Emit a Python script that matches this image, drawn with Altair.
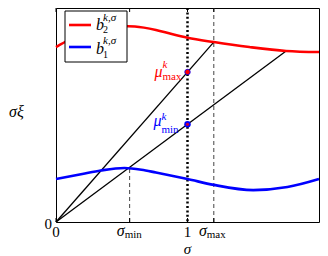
import altair as alt
import pandas as pd

# ---- data ----
sigma_b2 = [0.0, 0.1, 0.2, 0.3, 0.4, 0.5, 0.6, 0.76, 0.88, 1.0, 1.2, 1.47, 1.75, 2.0]
b2 = [0.806, 0.839, 0.866, 0.885, 0.899, 0.903, 0.901, 0.885, 0.866, 0.849, 0.829, 0.806, 0.788, 0.783]
sigma_b1 = [0.0, 0.2, 0.34, 0.52, 0.65, 0.76, 1.0, 1.2, 1.5, 1.76, 2.0]
b1 = [0.198, 0.221, 0.237, 0.249, 0.241, 0.228, 0.198, 0.171, 0.147, 0.161, 0.198]
sigma_min = 0.56
sigma_max = 1.2
sigma_one = 1.0
ray_end_sigma = [1.2, 1.75]
ray_end_value = [0.829, 0.788]
mu_max = 0.691
mu_min = 0.45
b1_at_sigma_min = 0.25
tick_sigma = [0.0, 0.56, 1.0, 1.2]

W, H = 263, 214
FONT = "Liberation Serif"
xs = alt.Scale(domain=[0, 2], nice=False, zero=False)
ys = alt.Scale(domain=[0, 0.986], nice=False, zero=False)


def X(f, **kw):
    return alt.X(f, type="quantitative", scale=xs, axis=None, **kw)


def Y(f, **kw):
    return alt.Y(f, type="quantitative", scale=ys, axis=None, **kw)


red_df = pd.DataFrame({"s": sigma_b2, "v": b2})
blue_df = pd.DataFrame({"s": sigma_b1, "v": b1})
ray_df = pd.DataFrame({"s0": [0.0, 0.0], "v0": [0.0, 0.0], "s1": ray_end_sigma, "v1": ray_end_value})
one_df = pd.DataFrame({"s": [sigma_one]})
smax_df = pd.DataFrame({"s": [sigma_max]})
smin_df = pd.DataFrame({"s": [sigma_min], "v0": [0.0], "v1": [b1_at_sigma_min]})
ticks_df = pd.DataFrame({"s": tick_sigma})

layers = []

# vertical reference lines
layers.append(alt.Chart(smax_df).mark_rule(color="#444", strokeWidth=1, strokeDash=[4, 3]).encode(x=X("s")))
layers.append(alt.Chart(smin_df).mark_rule(color="#444", strokeWidth=1, strokeDash=[4, 3]).encode(
    x=X("s"), y=Y("v0"), y2="v1"))
layers.append(alt.Chart(one_df).mark_rule(color="black", strokeWidth=2.5, strokeDash=[2, 2.4]).encode(x=X("s")))

# ticks (inward, top and bottom)
layers.append(alt.Chart(ticks_df).mark_rule(color="black", strokeWidth=1).encode(
    x=X("s"), y=alt.value(0), y2=alt.value(4)))
layers.append(alt.Chart(ticks_df).mark_rule(color="black", strokeWidth=1).encode(
    x=X("s"), y=alt.value(H - 4), y2=alt.value(H)))

# rays from origin
layers.append(alt.Chart(ray_df).mark_rule(color="black", strokeWidth=1.3).encode(
    x=X("s0"), y=Y("v0"), x2="s1", y2="v1"))

# curves
layers.append(alt.Chart(red_df).mark_line(color="#ff0000", strokeWidth=2.6, interpolate="monotone").encode(
    x=X("s"), y=Y("v")))
layers.append(alt.Chart(blue_df).mark_line(color="#0000ff", strokeWidth=2.6, interpolate="monotone").encode(
    x=X("s"), y=Y("v")))

# mu points
mu_df = pd.DataFrame({"s": [sigma_one], "vmax": [mu_max], "vmin": [mu_min]})
layers.append(alt.Chart(mu_df).mark_circle(size=30, color="#ff0000", opacity=1, stroke="#0000ff", strokeWidth=0.8).encode(
    x=X("s"), y=Y("vmax")))
layers.append(alt.Chart(mu_df).mark_circle(size=42, color="#0000ff", opacity=1).encode(x=X("s"), y=Y("vmin")))
layers.append(alt.Chart(mu_df).mark_circle(size=10, color="#cc0033", opacity=1).encode(x=X("s"), y=Y("vmin")))


def dtext(svalue, text, py, dx=0, align="center", size=13, style="normal", color="black", baseline="alphabetic"):
    return alt.Chart(pd.DataFrame({"s": [svalue]})).mark_text(
        text=text, align=align, baseline=baseline, dx=dx, font=FONT, fontSize=size,
        fontStyle=style, color=color).encode(x=X("s"), y=alt.value(py))


def ptext(px, py, text, align="left", size=13, style="normal", color="black", baseline="alphabetic"):
    return alt.Chart(pd.DataFrame({"a": [0]})).mark_text(
        text=text, align=align, baseline=baseline, font=FONT, fontSize=size,
        fontStyle=style, color=color).encode(x=alt.value(px), y=alt.value(py))


# mu labels
layers.append(dtext(sigma_one, "μ", 69, dx=-25, align="right", size=16, style="italic", color="#ff0000"))
layers.append(dtext(sigma_one, "k", 60, dx=-25, align="left", size=11, style="italic", color="#ff0000"))
layers.append(dtext(sigma_one, "max", 72, dx=-25, align="left", size=11, color="#ff0000"))
layers.append(dtext(sigma_one, "μ", 118, dx=-26, align="right", size=16, style="italic", color="#0000ff"))
layers.append(dtext(sigma_one, "k", 112, dx=-26, align="left", size=11, style="italic", color="#0000ff"))
layers.append(dtext(sigma_one, "min", 125, dx=-26, align="left", size=11, color="#0000ff"))

# x tick labels
layers.append(dtext(0.0, "0", 229, size=15))
layers.append(dtext(sigma_one, "1", 229, size=15))
layers.append(dtext(sigma_min, "σ", 228, dx=-5, align="right", size=16, style="italic"))
layers.append(dtext(sigma_min, "min", 230, dx=-5, align="left", size=11))
layers.append(dtext(sigma_max, "σ", 228, dx=-7, align="right", size=16, style="italic"))
layers.append(dtext(sigma_max, "max", 230, dx=-7, align="left", size=11))
# x title
layers.append(dtext(sigma_one, "σ", 246, size=15, style="italic"))
# y labels
layers.append(ptext(-4, 221, "0", align="right", size=15))
layers.append(ptext(-47, 109, "σξ", align="left", size=16, style="italic"))

# legend
layers.append(alt.Chart(pd.DataFrame({"a": [0]})).mark_rect(fill="white", stroke="black", strokeWidth=1).encode(
    x=alt.value(9), x2=alt.value(71), y=alt.value(3), y2=alt.value(54)))
layers.append(alt.Chart(pd.DataFrame({"a": [0]})).mark_rule(color="#ff0000", strokeWidth=2.6).encode(
    x=alt.value(13), x2=alt.value(35), y=alt.value(17)))
layers.append(alt.Chart(pd.DataFrame({"a": [0]})).mark_rule(color="#0000ff", strokeWidth=2.6).encode(
    x=alt.value(13), x2=alt.value(35), y=alt.value(39)))
layers.append(ptext(40, 22, "b", size=16, style="italic"))
layers.append(ptext(47, 13, "k,σ", size=11, style="italic"))
layers.append(ptext(47, 25, "2", size=10))
layers.append(ptext(40, 46, "b", size=16, style="italic"))
layers.append(ptext(47, 36, "k,σ", size=11, style="italic"))
layers.append(ptext(47, 50, "1", size=10))

chart = alt.layer(*layers).properties(
    width=W, height=H, autosize="none",
    padding={"left": 48, "top": 0, "right": 1, "bottom": 34},
    background="white",
).configure_view(stroke="black", strokeWidth=1)

chart.save("out.html", embed_options={"renderer": "svg", "actions": False})
